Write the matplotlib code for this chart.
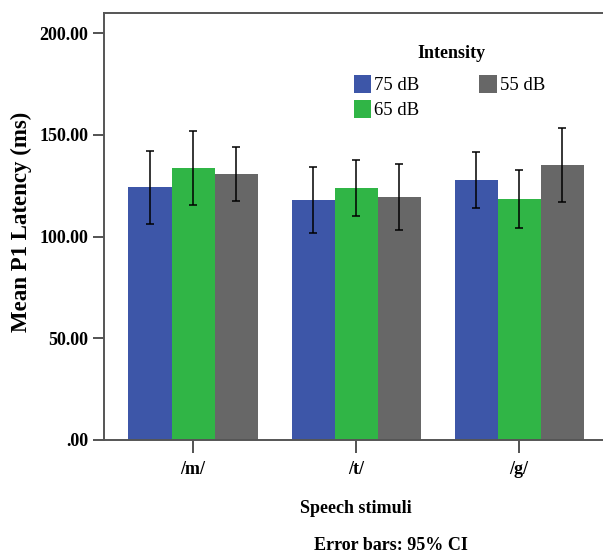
import numpy as np
import matplotlib
matplotlib.use("Agg")
import matplotlib.pyplot as plt
from matplotlib.patches import Patch

# Datos
stimuli = ["/m/", "/t/", "/g/"]
intensities = ["75 dB", "65 dB", "55 dB"]
colors = ["#3D56A8", "#30B546", "#676767"]

means = {
    "75 dB": [124.3, 118.2, 128.1],
    "65 dB": [133.9, 124.0, 118.6],
    "55 dB": [131.0, 119.5, 135.1],
}
ci_low = {
    "75 dB": [106.4, 101.8, 114.1],
    "65 dB": [115.7, 110.0, 104.2],
    "55 dB": [117.6, 103.1, 116.9],
}
ci_high = {
    "75 dB": [142.0, 134.2, 141.8],
    "65 dB": [151.9, 137.6, 132.7],
    "55 dB": [144.0, 135.5, 153.3],
}

yticks = [0, 50, 100, 150, 200]
ytick_labels = [".00", "50.00", "100.00", "150.00", "200.00"]

plt.rcParams['font.family'] = ['Liberation Serif', 'DejaVu Serif']

fig = plt.figure(figsize=(6.03, 5.59), dpi=100)
ax = fig.add_axes([0.1725, 0.2129, 0.836, 0.7639])

x = np.arange(len(stimuli))
width = 0.264
for i, name in enumerate(intensities):
    pos = x + (i - 1) * width
    m = np.array(means[name])
    lo = m - np.array(ci_low[name])
    hi = np.array(ci_high[name]) - m
    ax.bar(pos, m, width, color=colors[i], edgecolor='none', zorder=2)
    ax.errorbar(pos, m, yerr=[lo, hi], fmt='none', ecolor='black',
                elinewidth=1.1, capsize=3, capthick=1.1, zorder=3)

ax.set_xlim(-0.546, 2.546)
ax.set_ylim(0, 210)
ax.set_xticks(x)
ax.set_xticklabels(stimuli, fontsize=13, fontweight='bold')
ax.set_yticks(yticks)
ax.set_yticklabels(ytick_labels, fontsize=13, fontweight='bold')
ax.tick_params(axis='both', direction='out', length=8, width=1.3, color='#444444')
ax.tick_params(axis='x', length=9, pad=6)

for s in ax.spines.values():
    s.set_color('#555555')
    s.set_linewidth(1.4)

ax.set_xlabel("Speech stimuli", fontsize=13, fontweight='bold', labelpad=16)
ax.set_ylabel("Mean P1 Latency (ms)", fontsize=16.5, fontweight='bold')
ax.yaxis.set_label_coords(-0.143, 0.51)

fig.text(0.648, 0.025, "Error bars: 95% CI", fontsize=13, fontweight='bold',
         ha='center', va='center')

# titulo de la leyenda aparte
fig.text(0.748, 0.905, "Intensity", fontsize=13, fontweight='bold',
         ha='center', va='center')

handles = [Patch(facecolor=c, edgecolor='none') for c in colors]
leg = ax.legend(handles, intensities, ncol=2, frameon=False,
                fontsize=13.5, borderaxespad=0, borderpad=0,
                handlelength=0.95, handleheight=1.1, handletextpad=0.15,
                columnspacing=3.2, labelspacing=0.3,
                loc='upper left', bbox_to_anchor=(0.495, 0.855))

fig.savefig("out.png", dpi=100)
